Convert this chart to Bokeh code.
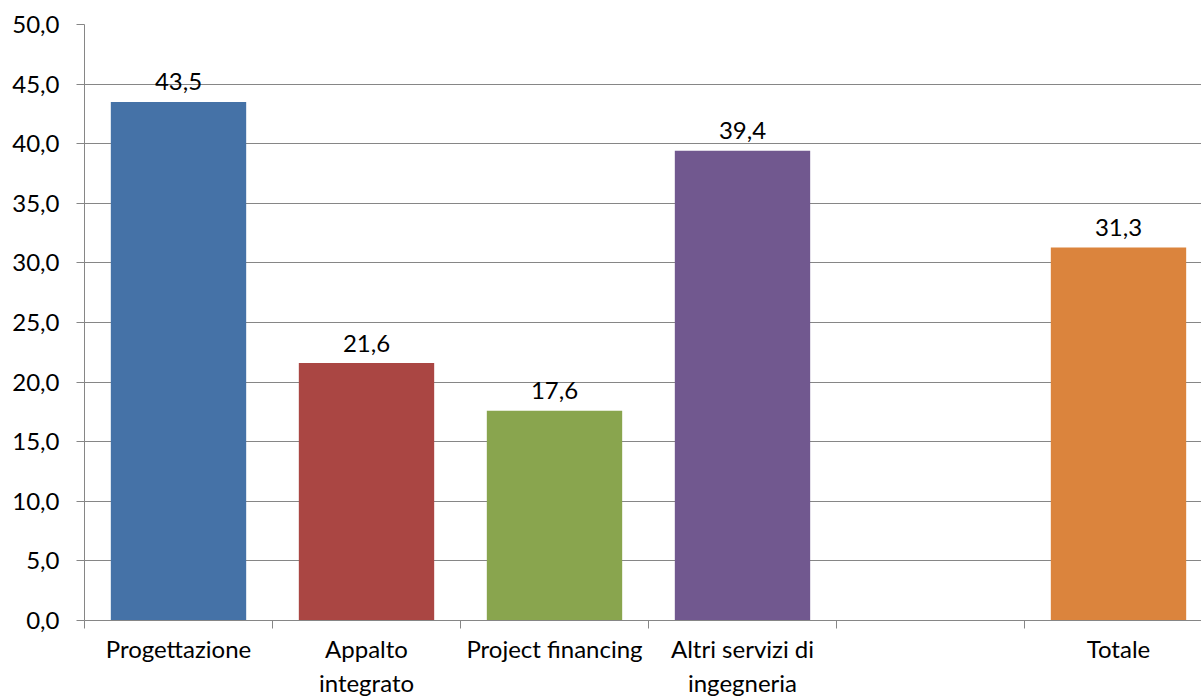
from bokeh.plotting import figure
from bokeh.models import FixedTicker, Range1d, ColumnDataSource
from bokeh.core.properties import value
from bokeh.embed import file_html
from bokeh.resources import INLINE

categories = ["Progettazione", "Appalto\nintegrato", "Project financing",
              "Altri servizi di\ningegneria", "", "Totale"]
values = [43.5, 21.6, 17.6, 39.4, None, 31.3]
colors = ["#4572A7", "#AA4643", "#89A54E", "#71588F", None, "#DB843D"]
y_ticks = [0, 5, 10, 15, 20, 25, 30, 35, 40, 45, 50]
y_tick_labels = ["0,0", "5,0", "10,0", "15,0", "20,0", "25,0", "30,0", "35,0",
                 "40,0", "45,0", "50,0"]

FONT = "Lato"
FS = "24px"

xs, tops, cols, labs = [], [], [], []
for i, (v, c) in enumerate(zip(values, colors)):
    if v is None:
        continue
    xs.append(i + 0.5)
    tops.append(v)
    cols.append(c)
    labs.append(f"{v:.1f}".replace(".", ","))
src = ColumnDataSource(dict(x=xs, top=tops, color=cols, label=labs))

W, H = 1201, 700
p = figure(width=W, height=H, output_backend="svg", toolbar_location=None,
           x_range=Range1d(0, (1201 - 84) / 188), y_range=Range1d(0, 50))
p.min_border_left = 84
p.min_border_right = 0
p.min_border_top = 24
p.min_border_bottom = H - 622
p.outline_line_color = None

p.vbar(x="x", top="top", width=0.72, color="color", source=src, line_color=None)
p.text(x="x", y="top", text="label", source=src, text_align="center",
       text_baseline="alphabetic", y_offset=-20, text_font=value(FONT),
       text_font_size=FS, text_color="black")

# y axis
p.yaxis.ticker = FixedTicker(ticks=y_ticks)
p.yaxis.major_label_overrides = {t: l for t, l in zip(y_ticks, y_tick_labels)}
p.yaxis.major_label_text_font = FONT
p.yaxis.major_label_text_font_size = FS
p.yaxis.major_label_text_color = "black"
p.yaxis.axis_line_color = "#868686"
p.yaxis.major_tick_line_color = "#868686"
p.yaxis.major_tick_out = 8
p.yaxis.major_tick_in = 0
p.yaxis.minor_tick_line_color = None
p.yaxis.major_label_standoff = 17

# x axis: tick marks at slot boundaries, labels at slot centres
centers = [i + 0.5 for i in range(len(categories))]
bounds = list(range(len(categories) + 1))
p.xaxis.ticker = FixedTicker(ticks=centers, minor_ticks=bounds)
p.xaxis.major_label_overrides = {c: l for c, l in zip(centers, categories)}
p.xaxis.major_label_text_font = FONT
p.xaxis.major_label_text_font_size = FS
p.xaxis.major_label_text_color = "black"
p.xaxis.axis_line_color = "#868686"
p.xaxis.major_tick_line_color = None
p.xaxis.major_tick_out = 0
p.xaxis.major_tick_in = 0
p.xaxis.minor_tick_line_color = "#868686"
p.xaxis.minor_tick_out = 8
p.xaxis.minor_tick_in = 0
p.xaxis.major_label_standoff = 5

p.xgrid.grid_line_color = None
p.ygrid.ticker = FixedTicker(ticks=y_ticks)
p.ygrid.grid_line_color = "#868686"
p.ygrid.grid_line_width = 1

open("out.html", "w").write(file_html(p, INLINE))
